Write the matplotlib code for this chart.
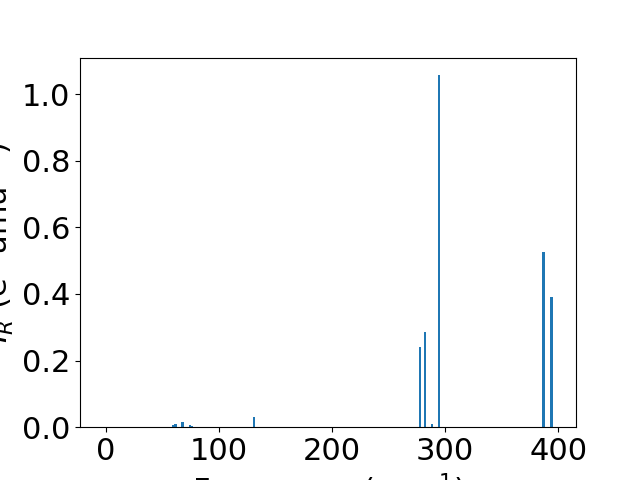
import matplotlib
matplotlib.use("Agg")
import matplotlib.pyplot as plt

freqs = [59.5, 61.5, 67.9, 74.5, 76.3, 130.9, 277.9, 282.1, 288.3, 294.7, 386.7, 394.2]
intensities = [0.006, 0.010, 0.017, 0.007, 0.004, 0.032, 0.242, 0.287, 0.011, 1.057, 0.527, 0.392]

plt.rcParams['font.size'] = 22
fig, ax = plt.subplots(figsize=(6.4, 4.8), dpi=100)
ax.bar(freqs, intensities, width=2.3, color='#1f77b4')
ax.set_xlim(-22.7, 415.6)
ax.set_xlabel("Frequency (cm$^{-1}$)")
ax.set_ylabel("$I_R$ (e$^2$ amu$^{-1}$)")
fig.savefig("out.png", dpi=100)
